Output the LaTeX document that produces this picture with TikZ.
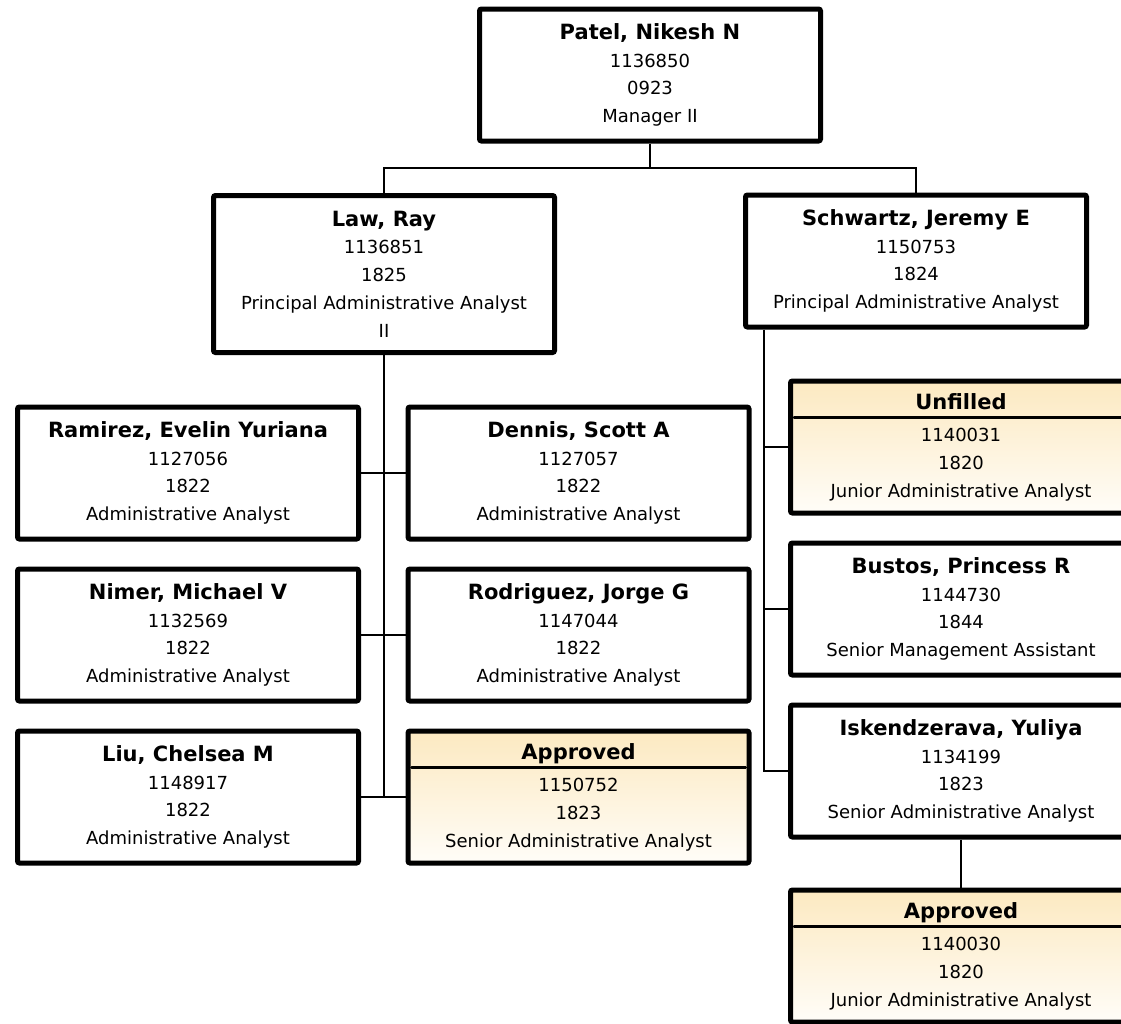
\documentclass[tikz,border=0pt]{standalone}
\usepackage{fontspec}
\setmainfont{DejaVu Sans}
\definecolor{tanTop}{RGB}{252,233,193}
\definecolor{tanBot}{RGB}{255,253,248}
\newcommand{\pname}[1]{{\fontsize{21}{27.7}\selectfont\bfseries #1}}
\tikzset{
  person/.style={draw=black, line width=5pt, rounded corners=2pt, fill=white,
    minimum width=341pt, minimum height=132pt, align=center, inner sep=0pt,
    font=\fontsize{18}{27.7}\selectfont},
  tallbox/.style={minimum height=157pt},
  pending/.style={top color=tanTop, bottom color=tanBot},
  link/.style={line width=2pt},
  sepline/.style={line width=3pt, line cap=round}
}
\begin{document}
\begin{tikzpicture}[x=1pt,y=-1pt]
\useasboundingbox (0,0) rectangle (1121,1023);
\clip (0,0) rectangle (1121,1023);

\node[person] (patel) at (650,75) {\pname{Patel, Nikesh N}\\1136850\\0923\\Manager II};
\node[person,tallbox] (law) at (384,274) {\pname{Law, Ray}\\1136851\\1825\\Principal Administrative Analyst\\II};
\node[person] (schwartz) at (916,261) {\pname{Schwartz, Jeremy E}\\1150753\\1824\\Principal Administrative Analyst};

\node[person] (ramirez) at (188,473) {\pname{Ramirez, Evelin Yuriana}\\1127056\\1822\\Administrative Analyst};
\node[person] (dennis) at (578.5,473) {\pname{Dennis, Scott A}\\1127057\\1822\\Administrative Analyst};
\node[person] (nimer) at (188,635) {\pname{Nimer, Michael V}\\1132569\\1822\\Administrative Analyst};
\node[person] (rodriguez) at (578.5,635) {\pname{Rodriguez, Jorge G}\\1147044\\1822\\Administrative Analyst};
\node[person] (liu) at (188,797) {\pname{Liu, Chelsea M}\\1148917\\1822\\Administrative Analyst};
\node[person,pending] (appr1) at (578.5,797) {\pname{Approved}\\[5pt]1150752\\1823\\Senior Administrative Analyst};

\node[person,pending] (unfilled) at (961,447) {\pname{Unfilled}\\[5pt]1140031\\1820\\Junior Administrative Analyst};
\node[person] (bustos) at (961,609) {\pname{Bustos, Princess R}\\1144730\\1844\\Senior Management Assistant};
\node[person] (isk) at (961,771) {\pname{Iskendzerava, Yuliya}\\1134199\\1823\\Senior Administrative Analyst};
\node[person,pending] (appr2) at (961,956) {\pname{Approved}\\[5pt]1140030\\1820\\Junior Administrative Analyst};

% header separators
\draw[sepline] ([xshift=6pt,yshift=-38.5pt]appr1.north west) -- ([xshift=-6pt,yshift=-38.5pt]appr1.north east);
\draw[sepline] ([xshift=6pt,yshift=-38.5pt]unfilled.north west) -- ([xshift=-6pt,yshift=-38.5pt]unfilled.north east);
\draw[sepline] ([xshift=6pt,yshift=-38.5pt]appr2.north west) -- ([xshift=-6pt,yshift=-38.5pt]appr2.north east);

% connectors
\coordinate (j1) at (650,168);
\draw[link] (patel.south) -- (j1);
\draw[link] (law.north) |- (j1) -| (schwartz.north);

\draw[link] (law.south) -- (law.south |- liu.east);
\draw[link] (ramirez.east) -- (dennis.west);
\draw[link] (nimer.east) -- (rodriguez.west);
\draw[link] (liu.east) -- (appr1.west);

\coordinate (sv) at ([xshift=20.5pt]schwartz.south west);
\draw[link] (sv) |- (isk.west);
\draw[link] (sv |- unfilled.west) -- (unfilled.west);
\draw[link] (sv |- bustos.west) -- (bustos.west);
\draw[link] (isk.south) -- (appr2.north);
\end{tikzpicture}
\end{document}
